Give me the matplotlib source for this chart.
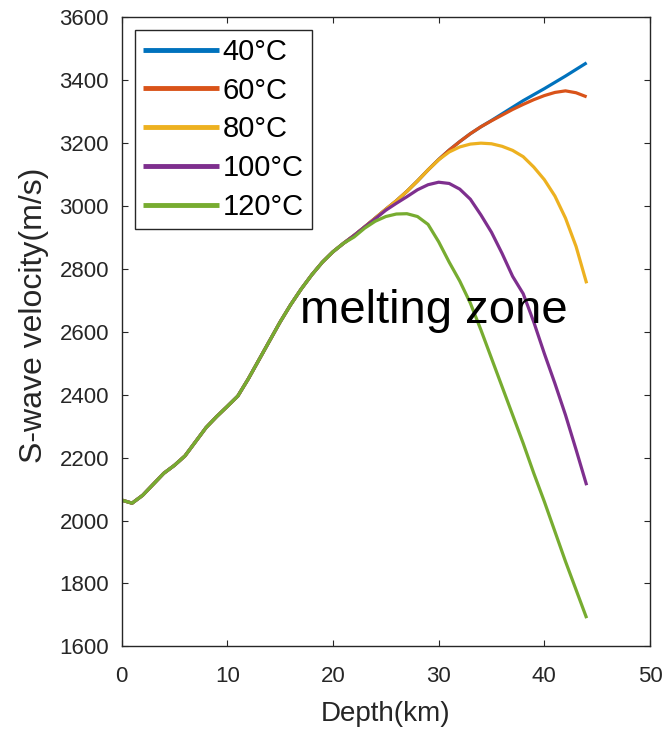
import matplotlib
matplotlib.use("Agg")
import matplotlib.pyplot as plt

plt.rcParams['font.family'] = ['Liberation Sans', 'DejaVu Sans']

# depth in km, 1 km steps
depth = list(range(0, 45))

# shared shallow part (all curves overlap here)
base = [2065, 2055, 2080, 2115, 2150, 2175, 2205, 2250, 2295, 2330,
        2362, 2395, 2450, 2510, 2570, 2630, 2685, 2735, 2780, 2820,
        2853, 2880]

v40 = base + [2905, 2932, 2960, 2988, 3015, 3045, 3078, 3113, 3146, 3176,
              3203, 3228, 3250, 3270, 3291, 3312, 3333, 3352, 3371, 3391,
              3411, 3432, 3453]
v60 = base + [2905, 2932, 2960, 2988, 3015, 3045, 3078, 3113, 3146, 3176,
              3203, 3228, 3250, 3269, 3287, 3305, 3321, 3336, 3349, 3359,
              3364, 3358, 3345]
v80 = base + [2905, 2932, 2960, 2988, 3015, 3045, 3078, 3113, 3145, 3170,
              3186, 3195, 3198, 3196, 3188, 3175, 3155, 3122, 3082, 3030,
              2960, 2870, 2753]
v100 = base + [2905, 2932, 2958, 2985, 3007, 3028, 3050, 3066, 3074, 3070,
               3052, 3020, 2970, 2915, 2848, 2775, 2720, 2630, 2530, 2435,
               2335, 2225, 2112]
v120 = base + [2900, 2928, 2950, 2965, 2973, 2974, 2965, 2940, 2885, 2820,
               2760, 2690, 2605, 2515, 2425, 2335, 2245, 2150, 2060, 1965,
               1870, 1780, 1690]

labels = ['40°C', '60°C', '80°C', '100°C', '120°C']
colors = ['#0072BD', '#D95319', '#EDB120', '#7E2F8E', '#77AC30']
series = [v40, v60, v80, v100, v120]

fig = plt.figure(figsize=(6.64, 7.31), dpi=100)
ax = fig.add_axes([0.183, 0.1156, 0.796, 0.8618])

for vals, lab, c in zip(series, labels, colors):
    ax.plot(depth, vals, color=c, lw=2.3, label=lab, solid_capstyle='butt')

ax.set_xlim(0, 50)
ax.set_ylim(1600, 3600)
ax.set_xticks(range(0, 51, 10))
ax.set_yticks(range(1600, 3601, 200))

ax.tick_params(direction='in', length=4, width=0.8, colors='#262626',
               labelsize=16, top=True, right=True)
ax.tick_params(axis='x', pad=14)
ax.tick_params(axis='y', pad=9)
for s in ax.spines.values():
    s.set_color('#262626')
    s.set_linewidth(1.0)

ax.set_xlabel('Depth(km)', fontsize=20, color='#262626')
ax.set_ylabel('S-wave velocity(m/s)', fontsize=23, color='#262626')
ax.xaxis.set_label_coords(0.5, -0.087)
ax.yaxis.set_label_coords(-0.166, 0.525)
ax.yaxis.label.set_va('center')

ax.text(16.9, 2627, 'melting zone', fontsize=34, color='black', va='baseline')

leg = ax.legend(loc='upper left', fontsize=21, handlelength=2.6,
                handletextpad=0.14, labelspacing=0.37, borderpad=0.28,
                borderaxespad=0.45, fancybox=False, framealpha=1)
leg.get_frame().set_edgecolor('#262626')
leg.get_frame().set_linewidth(1.0)
for h in leg.get_lines():
    h.set_linewidth(3.5)

fig.savefig('out.png', dpi=100)
